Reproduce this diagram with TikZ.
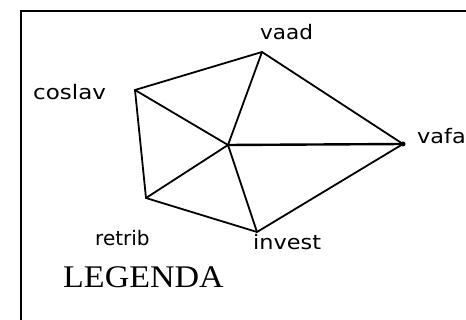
\documentclass[tikz,border=0pt]{standalone}
\usepackage{fontspec}
\setmainfont{Liberation Serif}
\newfontfamily\lblfont{DejaVu Sans}
\begin{document}
\begin{tikzpicture}[x=1pt,y=-1pt,
  edge/.style={line width=1.8pt,black},
  lbl/.style={inner sep=0pt,anchor=base west,font=\lblfont\fontsize{20}{20}\selectfont},
  legend/.style={inner sep=0pt,anchor=base west,font=\fontsize{31.5}{31.5}\selectfont}]
\useasboundingbox (0,0) rectangle (466,320);
\begin{scope}
\clip (0,0) rectangle (466,320);
\draw[line width=2.2pt] (21,340) -- (21,11) -- (490,11);
\coordinate (v) at (262,52);
\coordinate (c) at (135,90);
\coordinate (o) at (228,145);
\coordinate (f) at (403,144);
\coordinate (r) at (146,198);
\coordinate (i) at (257,232);
\draw[edge] (c) -- (v) -- (f) -- (i) -- (r) -- cycle;
\draw[edge] (o) -- (v);
\draw[edge] (o) -- (c);
\draw[edge] (o) -- (r);
\draw[edge] (o) -- (i);
\draw[line width=2.4pt] (o) -- (f);
\fill (f) circle (2.5pt);
\fill (o) circle (1.5pt);
\node[lbl] (lv) at (260,40) {\scalebox{1.08}[1]{vaad}};
\node[lbl] (lc) at (33,100) {\scalebox{1.15}[1]{coslav}};
\node[lbl] (lf) at (417,144) {\scalebox{1.12}[1]{vafa}};
\node[lbl] (lr) at (95,246) {\scalebox{1.0}[1]{retrib}};
\node[lbl] (li) at (253,250) {\scalebox{1.12}[1]{invest}};
\node[legend] (leg) at (63,288) {\scalebox{1.08}[1]{LEGENDA}};
\end{scope}
\end{tikzpicture}
\end{document}
